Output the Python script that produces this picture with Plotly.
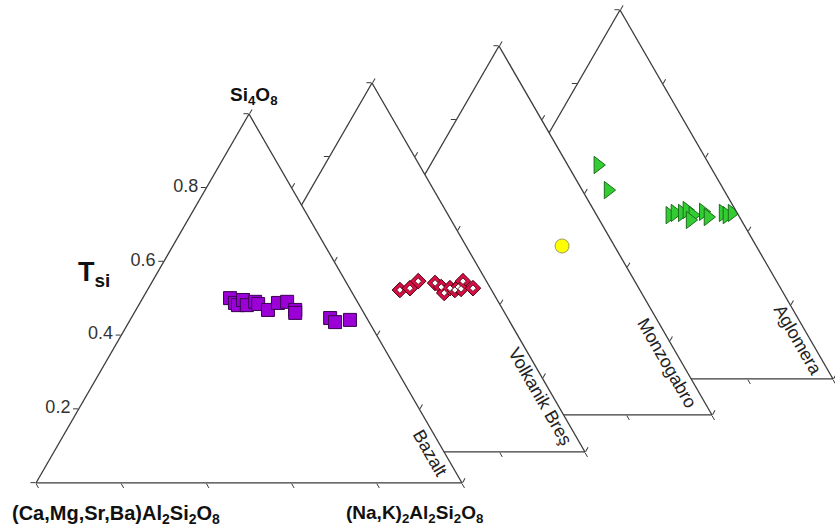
import plotly.graph_objects as go

# ---------------- data (ternary fractions: a = Si4O8 / Tsi, b = (Ca,Mg,Sr,Ba)Al2Si2O8, c = (Na,K)2Al2Si2O8)
bazalt_a = [0.501, 0.488, 0.482, 0.496, 0.482, 0.491, 0.485, 0.469, 0.488, 0.491, 0.469, 0.461, 0.447, 0.436, 0.442]
bazalt_b = [0.294, 0.289, 0.285, 0.266, 0.264, 0.240, 0.236, 0.221, 0.188, 0.165, 0.157, 0.161, 0.086, 0.080, 0.042]
bazalt_c = [0.205, 0.223, 0.233, 0.238, 0.254, 0.269, 0.279, 0.310, 0.324, 0.344, 0.374, 0.378, 0.467, 0.484, 0.516]

volkanik_a = [0.439, 0.444, 0.463, 0.458, 0.447, 0.431, 0.444, 0.439, 0.447, 0.463, 0.442, 0.444]
volkanik_b = [0.215, 0.189, 0.160, 0.123, 0.114, 0.115, 0.095, 0.086, 0.074, 0.055, 0.070, 0.041]
volkanik_c = [0.346, 0.367, 0.377, 0.419, 0.439, 0.454, 0.461, 0.475, 0.479, 0.482, 0.488, 0.515]

monzogabro_a = [0.458]
monzogabro_b = [0.123]
monzogabro_c = [0.419]

aglomera_a = [0.580, 0.512, 0.444, 0.450, 0.450, 0.458, 0.444, 0.431, 0.453, 0.439, 0.450, 0.444, 0.450]
aglomera_b = [0.262, 0.272, 0.161, 0.146, 0.129, 0.114, 0.107, 0.120, 0.078, 0.074, 0.033, 0.027, 0.012]
aglomera_c = [0.158, 0.216, 0.395, 0.404, 0.421, 0.428, 0.449, 0.449, 0.469, 0.487, 0.517, 0.529, 0.538]

tick_vals = [0, 0.2, 0.4, 0.6, 0.8, 1.0]
a_tick_text = ["", "0.2", "0.4", "0.6", "0.8", ""]
rock_names = ["Bazalt", "Volkanik Breş", "Monzogabro", "Aglomera"]

# ---------------- layout geometry
FW, FH = 835, 532
TW, TH = 426, 369
# (left px, base px) of each triangle, front -> back
boxes = {"Bazalt": (36, 483), "Volkanik Breş": (159, 452),
         "Monzogabro": (286, 415), "Aglomera": (407, 379)}
# subplot id: later ids are drawn on top -> front triangle last
subplot_of = {"Aglomera": "ternary", "Monzogabro": "ternary2",
              "Volkanik Breş": "ternary3", "Bazalt": "ternary4"}

FONT = "Arial, Liberation Sans, sans-serif"
LINE = "#3a3a3a"


def px(x):
    return x / FW


def py(y):
    return 1 - y / FH


def axis(show_labels=False, labels=None):
    d = dict(
        min=0, showgrid=False, linecolor=LINE, linewidth=1.3,
        ticks="outside", ticklen=5, tickwidth=1.2, tickcolor=LINE,
        tickmode="array", tickvals=tick_vals,
        showticklabels=show_labels, title=dict(text=""),
        tickfont=dict(family=FONT, size=18, color="#333333"),
    )
    if labels is not None:
        d["ticktext"] = labels
    return d


fig = go.Figure()

# back to front order of traces
fig.add_trace(go.Scatterternary(
    a=aglomera_a, b=aglomera_b, c=aglomera_c, mode="markers",
    subplot=subplot_of["Aglomera"], name="Aglomera",
    marker=dict(symbol="triangle-right", size=15, color="#33CC33",
                line=dict(color="#1C6E1C", width=1)),
))
fig.add_trace(go.Scatterternary(
    a=monzogabro_a, b=monzogabro_b, c=monzogabro_c, mode="markers",
    subplot=subplot_of["Monzogabro"], name="Monzogabro",
    marker=dict(symbol="circle", size=14, color="#FFFF00",
                line=dict(color="#9A9A60", width=1)),
))
fig.add_trace(go.Scatterternary(
    a=volkanik_a, b=volkanik_b, c=volkanik_c, mode="markers",
    subplot=subplot_of["Volkanik Breş"], name="Volkanik Breş",
    marker=dict(symbol="diamond", size=12, color="#D80F45",
                line=dict(color="#4A0010", width=1)),
))
fig.add_trace(go.Scatterternary(
    a=volkanik_a, b=volkanik_b, c=volkanik_c, mode="markers",
    subplot=subplot_of["Volkanik Breş"], name="Volkanik Breş (core)",
    marker=dict(symbol="diamond", size=5, color="#FFFFFF",
                line=dict(color="#4A0010", width=0.8)),
))
fig.add_trace(go.Scatterternary(
    a=bazalt_a, b=bazalt_b, c=bazalt_c, mode="markers",
    subplot=subplot_of["Bazalt"], name="Bazalt",
    marker=dict(symbol="square", size=13, color="#9B00D6",
                line=dict(color="#3A0050", width=1)),
))

layout_kw = {}
for name, (left, base) in boxes.items():
    sid = subplot_of[name]
    front = name == "Bazalt"
    layout_kw[sid] = dict(
        domain=dict(x=[px(left), px(left + TW)], y=[py(base), py(base - TH)]),
        sum=1, bgcolor="white",
        aaxis=axis(front, a_tick_text if front else None),
        baxis=axis(False),
        caxis=axis(False),
    )

fig.update_layout(
    width=FW, height=FH, margin=dict(l=0, r=0, t=0, b=0),
    paper_bgcolor="white", plot_bgcolor="white", showlegend=False,
    font=dict(family=FONT, color="#222222"),
    **layout_kw,
)

ann = []
# corner titles of front triangle
ann.append(dict(x=px(254), y=py(96), text="<b>Si<sub>4</sub>O<sub>8</sub></b>",
                font=dict(size=19, family=FONT, color="#111111")))
ann.append(dict(x=px(116), y=py(514), text="<b>(Ca,Mg,Sr,Ba)Al<sub>2</sub>Si<sub>2</sub>O<sub>8</sub></b>",
                font=dict(size=20, family=FONT, color="#111111")))
ann.append(dict(x=px(414), y=py(514), text="<b>(Na,K)<sub>2</sub>Al<sub>2</sub>Si<sub>2</sub>O<sub>8</sub></b>",
                font=dict(size=19, family=FONT, color="#111111")))
ann.append(dict(x=px(94), y=py(274), text="<b>T<sub>si</sub></b>",
                font=dict(size=27, family=FONT, color="#111111")))
# rock type labels along right edges
label_pos = {"Bazalt": (430, 453), "Volkanik Breş": (540, 396),
             "Monzogabro": (667, 363), "Aglomera": (798, 340)}
for name in rock_names:
    x, y = label_pos[name]
    ann.append(dict(x=px(x), y=py(y), text=name, textangle=60,
                    font=dict(size=18, family=FONT, color="#222222")))
for a in ann:
    a.update(xref="paper", yref="paper", showarrow=False, xanchor="center", yanchor="middle")
fig.update_layout(annotations=ann)

fig.write_html("out.html", config={"displayModeBar": False},
               post_script="document.body.style.margin='0';document.body.style.overflow='hidden';")
